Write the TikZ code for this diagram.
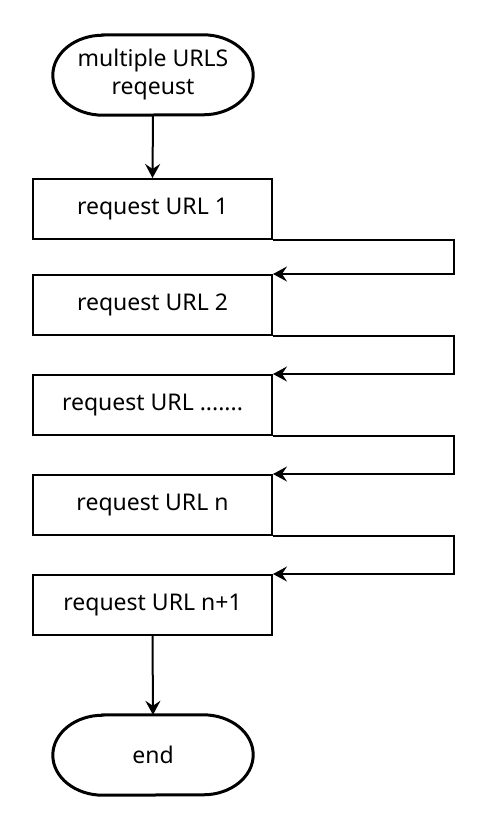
\documentclass[tikz,border=0pt]{standalone}
\usepackage{fontspec}
\setmainfont{Noto Sans}
\usetikzlibrary{arrows.meta}
\begin{document}
\begin{tikzpicture}[x=1pt,y=-1pt,
  every node/.style={font=\fontsize{23}{28}\selectfont},
  box/.style={draw,line width=2pt,minimum width=239pt,minimum height=60pt,inner sep=0pt},
  term/.style={minimum width=200pt,minimum height=80pt,inner sep=0pt,align=center},
  termline/.style={line width=3pt},
  arr/.style={line width=2pt,-{Stealth[length=14pt,width=15pt,inset=5pt]}},
  link/.style={line width=2pt,-{Stealth[length=14pt,width=15pt,inset=5pt]}}]
\useasboundingbox (0,0) rectangle (502,838);
\node[term] (start) at (153,75) {multiple URLS\\reqeust};
\draw[termline] ([xshift=50pt]start.north west) -- ([xshift=-50pt]start.north east)
  arc[start angle=90,end angle=-90,x radius=50pt,y radius=40pt]
  -- ([xshift=50pt]start.south west)
  arc[start angle=270,end angle=90,x radius=50pt,y radius=40pt] -- cycle;
\node[box] (b1) at (152.5,209) {request URL 1};
\node[box] (b2) at (152.5,305) {request URL 2};
\node[box] (b3) at (152.5,405) {request URL .......};
\node[box] (b4) at (152.5,505) {request URL n};
\node[box] (b5) at (152.5,605) {request URL n+1};
\node[term] (end) at (153,755) {end};
\draw[termline] ([xshift=50pt]end.north west) -- ([xshift=-50pt]end.north east)
  arc[start angle=90,end angle=-90,x radius=50pt,y radius=40pt]
  -- ([xshift=50pt]end.south west)
  arc[start angle=270,end angle=90,x radius=50pt,y radius=40pt] -- cycle;
\draw[arr] (start.south) -- (b1.north);
\draw[link] (b1.south east) -- ([xshift=181pt]b1.south east) |- (b2.north east);
\draw[link] (b2.south east) -- ([xshift=181pt]b2.south east) |- (b3.north east);
\draw[link] (b3.south east) -- ([xshift=181pt]b3.south east) |- (b4.north east);
\draw[link] (b4.south east) -- ([xshift=181pt]b4.south east) |- (b5.north east);
\draw[arr] (b5.south) -- (end.north);
\end{tikzpicture}
\end{document}
